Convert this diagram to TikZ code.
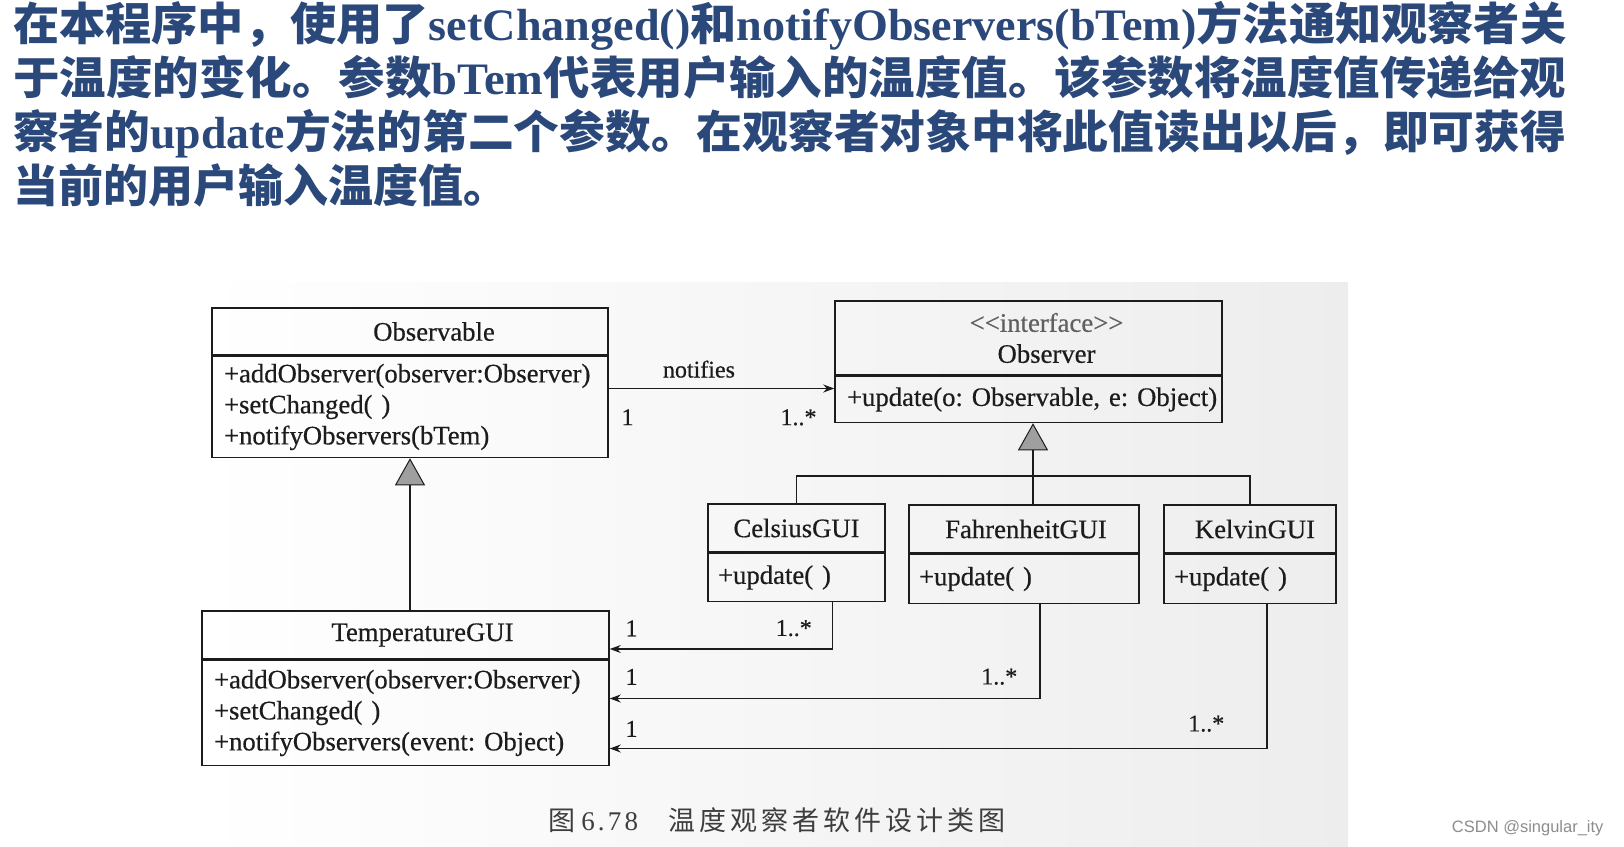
\documentclass[tikz,border=0pt]{standalone}
\usepackage{fontspec}
\usepackage{graphicx}
\setmainfont{Liberation Serif}
\setsansfont{Liberation Sans}
\newfontfamily\cjk{Noto Sans CJK SC}
\newfontfamily\capcjk[LetterSpace=15]{Noto Sans CJK SC}
\newfontfamily\capnum[LetterSpace=12]{Liberation Serif}
\newfontfamily\scan[FakeBold=0.5]{Liberation Serif}
\usetikzlibrary{arrows.meta,positioning,calc}
\definecolor{txtblue}{RGB}{43,72,122}
\definecolor{ink}{RGB}{28,28,28}
\definecolor{wmgray}{RGB}{140,140,140}
\frenchspacing

\begin{document}
\begin{tikzpicture}[x=1pt,y=-1pt,>=Stealth,
   font=\scan\fontsize{26.7}{31}\selectfont,
   para/.style={anchor=base west,inner sep=0pt,text=txtblue,font=\rmfamily\fontsize{45}{54}\selectfont\bfseries},
   cls/.style={draw=ink,line width=1.5pt,align=center,inner sep=0pt,text=ink},
   ops/.style={draw=ink,line width=1.5pt,align=left,anchor=north,inner xsep=12pt,inner ysep=0pt,text=ink},
   gen/.style={draw=ink,line width=1.5pt,-{Triangle[length=27pt,width=30pt,fill=gray!75,line width=1pt]}},
   assoc/.style={draw=ink,line width=1.5pt,-{Stealth[length=11pt,width=8pt]}},
   mult/.style={text=ink,font=\scan\fontsize{24}{24}\selectfont,inner sep=0pt}]
  \useasboundingbox (0,0) rectangle (1624,846);
  \fill[left color=white,right color=black!7] (197,282) rectangle (1348,846);

  \node[para] (ln1) at (13,40) {\resizebox{1553pt}{\height}{{\cjk 在本程序中，使用了}setChanged(){\cjk 和}notifyObservers(bTem){\cjk 方法通知观察者关}}};
  \node[para] (ln2) at (13,94) {\resizebox{1553pt}{\height}{{\cjk 于温度的变化。参数}bTem{\cjk 代表用户输入的温度值。该参数将温度值传递给观}}};
  \node[para] (ln3) at (13,148) {\resizebox{1553pt}{\height}{{\cjk 察者的}update{\cjk 方法的第二个参数。在观察者对象中将此值读出以后，即可获得}}};
  \node[para] (ln4) at (13,202) {{\cjk 当前的用户输入温度值。}};

  \node[cls,minimum width=396pt,minimum height=47pt] (obsT) at (410,331.5) {\hspace*{48pt}Observable};
  \node[ops,text width=372pt,minimum height=101pt] (obsB) at (obsT.south)
        {+addObserver(observer:Observer)\\+setChanged( )\\+notifyObservers(bTem)};
  \node[cls,minimum width=387pt,minimum height=74pt] (obvT) at (1028.5,338)
        {\hspace*{36pt}\textcolor{ink!70}{<{}<interface>{}>}\\\hspace*{36pt}Observer};
  \node[ops,text width=363pt,minimum height=46pt] (obvB) at (obvT.south)
        {\mbox{+update(o: Observable, e: Object)}};
  \node[cls,minimum width=177pt,minimum height=48pt] (celT) at (796.5,528) {CelsiusGUI};
  \node[ops,inner xsep=10pt,text width=157pt,minimum height=48pt] (celB) at (celT.south) {+update( )};
  \node[cls,minimum width=230pt,minimum height=48pt] (fahT) at (1024,529) {\hspace*{4pt}FahrenheitGUI};
  \node[ops,inner xsep=10pt,text width=210pt,minimum height=49pt] (fahB) at (fahT.south) {+update( )};
  \node[cls,minimum width=172pt,minimum height=48pt] (kelT) at (1250,529) {\hspace*{10pt}KelvinGUI};
  \node[ops,inner xsep=10pt,text width=152pt,minimum height=49pt] (kelB) at (kelT.south) {+update( )};
  \node[cls,minimum width=407pt,minimum height=48pt] (tmpT) at (405.5,635) {\hspace*{34pt}TemperatureGUI};
  \node[ops,text width=383pt,minimum height=105pt] (tmpB) at (tmpT.south)
        {+addObserver(observer:Observer)\\+setChanged( )\\+notifyObservers(event: Object)};

  \coordinate (nf) at ([yshift=18.5pt]obsB.east);
  \draw[assoc] (nf) -- node[mult,pos=0.4,above=10pt]{notifies}
        node[mult,pos=0,anchor=north west,xshift=12pt,yshift=-20pt]{1}
        node[mult,pos=1,anchor=north east,xshift=-17pt,yshift=-20pt]{1..*} (nf -| obvB.west);
  \draw[gen] (obsB.south |- tmpT.north) -- (obsB.south);
  \coordinate (bus) at (0,476);
  \draw[draw=ink,line width=1.3pt] (celT.north) |- (bus -| kelT.north) -- (kelT.north);
  \coordinate (tip) at ([xshift=4.5pt]obvB.south);
  \draw[gen] (tip |- fahT.north) -- (tip);

  \draw[assoc] ([xshift=36pt]celB.south) |- node[mult,pos=0.5,anchor=south east,xshift=-20pt,yshift=12pt]{1..*}
        node[mult,pos=1,anchor=south west,xshift=15pt,yshift=12pt]{1} ([yshift=-14pt]tmpT.east);
  \draw[assoc] ([xshift=16pt]fahB.south) |- node[mult,pos=0.5,anchor=south east,xshift=-22pt,yshift=13pt]{1..*}
        node[mult,pos=1,anchor=south west,xshift=15pt,yshift=13pt]{1} ([yshift=14.5pt]tmpB.east);
  \draw[assoc] ([xshift=17pt]kelB.south) |- node[mult,pos=0.5,anchor=south east,xshift=-42pt,yshift=16pt]{1..*}
        node[mult,pos=1,anchor=south west,xshift=15pt,yshift=11pt]{1} ([yshift=-35.5pt]tmpB.east);

  \node[text=ink!85,font=\rmfamily\fontsize{27}{27}\selectfont] (cap) at (777,820)
        {{\capcjk 图}\hspace{6pt}{\capnum 6.78}\hspace{30pt}{\capcjk 温度观察者软件设计类图}};
  \node[text=wmgray,font=\sffamily\fontsize{16.5}{16.5}\selectfont,anchor=east] (wm) at (1607,828) {CSDN @singular\_ity};
\end{tikzpicture}
\end{document}
